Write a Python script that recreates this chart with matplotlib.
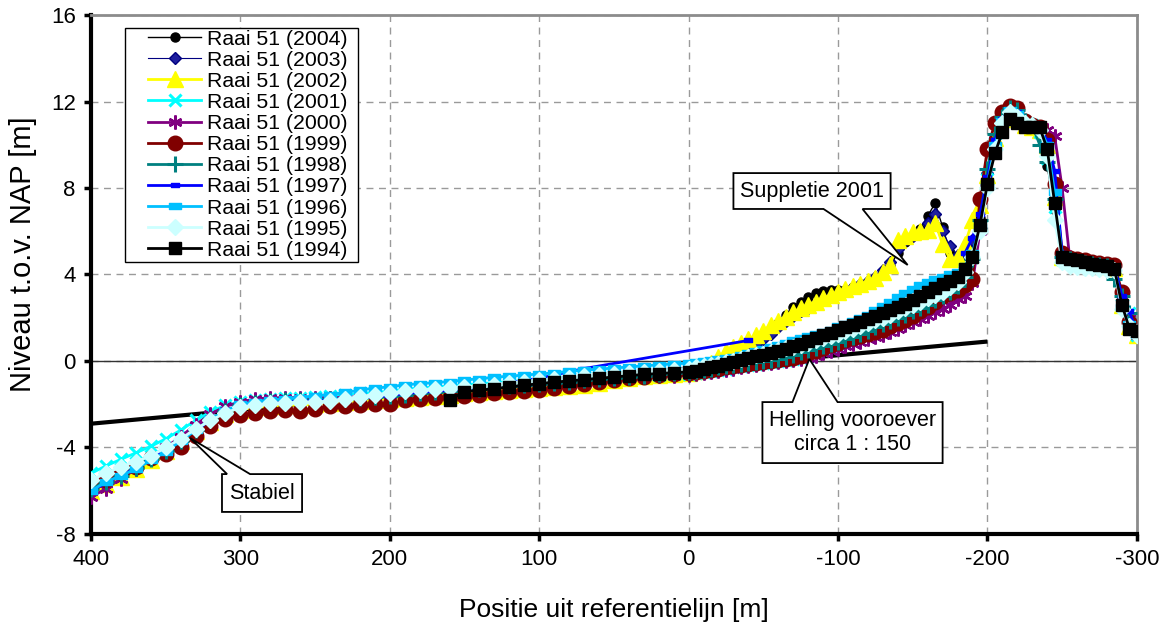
import numpy as np
import matplotlib
matplotlib.use("Agg")
import matplotlib.pyplot as plt
from matplotlib.path import Path
from matplotlib.patches import Polygon, Rectangle

plt.rcParams['font.family'] = ['Liberation Sans', 'DejaVu Sans']
plt.rcParams['axes.unicode_minus'] = False

# ---------------------------------------------------------------------------
# Profile stations [m from reference line]
x_sea = [400, 390, 380, 370, 360, 350, 340, 330, 320, 310, 300, 290, 280, 270, 260, 250,
         240, 230, 220, 210, 200, 190, 180, 170, 160, 150, 140, 130, 120, 110, 100, 90,
         80, 70, 60, 50, 40, 30, 20, 10]
x_beach = [0, -5, -10, -15, -20, -25, -30, -35, -40, -45, -50, -55, -60, -65, -70, -75,
           -80, -85, -90, -95, -100, -105, -110, -115, -120, -125, -130, -135, -140, -145,
           -150, -155, -160, -165, -170, -175, -180, -185, -190]
x_dune = [-195, -200, -205, -210, -215, -220, -225, -230, -235, -240, -245, -250, -255,
          -260, -265, -270, -275, -280, -285, -290, -295, -300]

# None = not measured (line continues), nan = gap in the line
nan = np.nan

# Bed level [m NAP] per survey year: sea part, beach part, dune part
z2004_sea = [-6.1, -5.8, -5.5, -5.1, -4.7, -4.2, -3.75, -3.3, -2.8, -2.4, -2.15, -2.05, -1.95, -1.9,
             -1.85, -1.85, -1.8, -1.75, -1.7, -1.65, -1.6, -1.55, -1.5, -1.45, -1.4, -1.35, -1.3,
             -1.25, -1.2, -1.15, -1.1, -1.05, -1.0, -0.95, -0.9, -0.85, -0.8, -0.7, -0.6, -0.5]
z2004_beach = [-0.4, -0.3, -0.2, -0.1, 0.0, 0.15, 0.3, 0.45, 0.65, 0.85, 1.1, 1.4, 1.75, 2.15, 2.5,
               2.75, 2.95, 3.15, 3.25, 3.3, 3.3, 3.3, 3.4, 3.5, 3.6, 3.8, 4.1, 4.4, 5.0, 5.5, 5.8,
               6.1, 6.7, 7.3, 6.2, 5.0, 4.7, 4.9, 5.5]
z2004_dune = [6.6, 8.4, 10.1, 11.1, 11.5, 11.3, 10.9, 10.8, 10.6, 9.0, 7.0, 4.8, 4.65, 4.6, 4.55,
              4.5, 4.45, 4.4, 4.3, 2.7, 1.8, 1.3]

z2003_sea = [-5.9, -5.6, -5.3, -4.95, -4.55, -4.1, -3.65, -3.2, -2.75, -2.35, -2.1, -2.0, -1.9,
             -1.85, -1.8, -1.8, -1.75, -1.7, -1.65, -1.6, -1.55, -1.5, -1.45, -1.4, -1.35, -1.3,
             -1.25, -1.2, -1.15, -1.1, -1.05, -1.0, -0.95, -0.9, -0.85, -0.8, -0.75, -0.7, -0.6, -0.52]
z2003_beach = [-0.45, -0.35, -0.25, -0.15, -0.05, 0.1, 0.25, 0.4, 0.6, 0.8, 1.0, 1.25, 1.55, 1.85,
               2.1, 2.3, 2.45, 2.65, 2.85, 3.0, 3.15, 3.3, 3.4, 3.55, 3.7, 3.9, 4.2, 4.6, 5.2, 5.6,
               5.8, 6.0, 6.4, 6.8, 6.0, 5.3, 4.9, 5.0, 5.6]
z2003_dune = [6.9, 8.7, 10.3, 11.2, 11.6, 11.4, 11.0, 10.9, 10.7, 10.0, 7.7, 4.9, 4.7, 4.6, 4.55,
              4.5, 4.45, 4.4, 4.35, 2.8, 1.9, 1.3]

z2002_sea = [-6.0, -5.7, -5.35, -5.0, -4.6, -4.15, -3.7, -3.25, -2.8, -2.45, -2.25, -2.15, -2.1,
             -2.05, -2.05, -2.0, -1.95, -1.9, -1.85, -1.8, -1.75, -1.7, -1.65, -1.6, -1.55, -1.5,
             -1.45, -1.4, -1.35, -1.3, -1.25, -1.2, -1.15, -1.1, -1.0, -0.9, -0.8, -0.7, -0.65, -0.6]
z2002_beach = [-0.55, -0.45, -0.3, -0.1, 0.2, 0.45, 0.65, 0.85, 1.0, 1.2, 1.4, 1.65, 1.85, 2.05,
               2.25, 2.45, 2.6, 2.75, 2.9, 3.05, 3.2, 3.35, 3.45, 3.55, 3.7, 3.85, 4.1, 4.45, 5.6,
               5.8, 5.95, 6.0, 6.05, 6.4, 5.4, 4.7, 4.8, 5.4, 6.5]
z2002_dune = [7.2, 8.6, 10.3, 11.2, 11.6, 11.4, 10.9, 10.8, 10.7, 10.0, 7.6, 4.8, 4.65, 4.6, 4.55,
              4.5, 4.45, 4.4, 4.3, 2.6, 1.6, 1.2]

z2001_sea = [-5.2, -4.85, -4.55, -4.25, -3.95, -3.6, -3.2, -2.75, -2.35, -2.05, -1.9, -1.8, -1.75,
             -1.7, -1.7, -1.65, -1.6, -1.55, -1.5, -1.45, -1.4, -1.3, -1.25, -1.2, -1.15, -1.1,
             -1.05, -1.0, -0.95, -0.9, -0.85, -0.8, -0.78, -0.75, -0.72, -0.7, -0.68, -0.66, -0.64, -0.62]
z2001_beach = [-0.6, -0.55, -0.5, -0.45, -0.4, -0.35, -0.3, -0.25, -0.2, -0.15, -0.1, -0.05, 0.0,
               0.05, 0.1, 0.15, 0.25, 0.4, 0.55, 0.7, 0.85, 1.0, 1.15, 1.3, 1.45, 1.6, 1.75, 1.9,
               2.05, 2.2, 2.35, 2.5, 2.65, 2.85, 3.05, 3.3, 3.6, 4.1, 4.8]
z2001_dune = [6.2, 8.4, 10.1, 11.1, 11.6, 11.4, 11.0, 10.9, 10.6, 9.4, 7.1, 4.7, 4.6, 4.55, 4.5,
              4.45, 4.4, 4.35, 4.3, 2.6, 2.2, 1.2]

z2000_sea = [-6.3, -5.9, -5.45, -5.0, -4.5, -4.0, -3.5, -2.95, -2.45, -2.1, -1.9, -1.75, -1.7, -1.7,
             -1.7, -1.7, -1.7, -1.68, -1.65, -1.6, -1.55, -1.5, -1.45, -1.42, -1.4, -1.35, -1.3,
             -1.25, -1.2, -1.15, -1.1, -1.05, -1.0, -0.95, -0.9, -0.85, -0.8, -0.75, -0.7, -0.68]
z2000_beach = [-0.65, -0.6, -0.55, -0.5, -0.45, -0.4, -0.35, -0.3, -0.25, -0.2, -0.15, -0.1, -0.05,
               0.0, 0.05, 0.1, 0.15, 0.25, 0.35, 0.45, 0.55, 0.7, 0.8, 0.9, 1.0, 1.1, 1.2, 1.35,
               1.5, 1.65, 1.8, 1.95, 2.1, 2.25, 2.4, 2.6, 2.85, 3.0, 3.6]
z2000_dune = [6.0, 8.3, 10.2, 11.2, 11.7, 11.5, 11.0, 10.9, 10.8, 10.7, 10.4, 8.0, 4.8, 4.7, 4.65,
              4.6, 4.55, 4.5, 4.4, 2.7, 2.0, 1.2]

z1999_sea = [-5.8, -5.5, -5.2, -4.9, -4.5, -4.3, -4.0, -3.45, -3.0, -2.7, -2.5, -2.4, -2.3, -2.25,
             -2.3, -2.2, -2.1, -2.1, -2.05, -2.0, -2.0, -1.8, -1.75, -1.7, -1.65, -1.6, -1.55, -1.5,
             -1.45, -1.4, -1.35, -1.25, -1.15, -1.05, -0.95, -0.88, -0.8, -0.73, -0.66, -0.6]
z1999_beach = [-0.55, -0.5, -0.45, -0.4, -0.35, -0.3, -0.25, -0.2, -0.15, -0.1, -0.05, 0.0, 0.05,
               0.1, 0.15, 0.25, 0.35, 0.45, 0.6, 0.75, 0.85, 0.95, 1.05, 1.15, 1.25, 1.35, 1.45,
               1.6, 1.75, 1.9, 2.1, 2.3, 2.5, 2.75, 3.0, 3.15, 3.3, 3.5, 3.8]
z1999_dune = [7.5, 9.8, 11.0, 11.5, 11.8, 11.7, 11.1, 10.9, 10.8, 10.2, 8.2, 5.0, 4.75, 4.7, 4.65,
              4.6, 4.55, 4.5, 4.45, 3.2, 1.8, 1.3]

z1998_sea = [-5.9, -5.6, -5.3, -4.95, -4.55, -4.15, -3.7, -3.2, -2.7, -2.3, -2.05, -1.95, -1.85,
             -1.8, -1.8, -1.8, -1.75, -1.75, -1.7, -1.65, -1.6, -1.55, -1.5, -1.45, -1.4, -1.35,
             -1.3, -1.22, -1.15, -1.1, -1.05, -1.0, -0.95, -0.9, -0.85, -0.8, -0.75, -0.68, -0.62, -0.56]
z1998_beach = [-0.5, -0.45, -0.4, -0.35, -0.3, -0.25, -0.2, -0.15, -0.1, -0.05, 0.0, 0.05, 0.1, 0.2,
               0.3, 0.4, 0.5, 0.6, 0.7, 0.8, 0.9, 1.0, 1.1, 1.25, 1.4, 1.55, 1.7, 1.85, 2.0, 2.15,
               2.3, 2.45, 2.6, 2.8, 3.0, 3.2, 3.45, 3.9, 4.7]
z1998_dune = [6.5, 8.9, 10.5, 11.3, 11.7, 11.6, 11.1, 10.9, 10.0, 9.2, 7.5, 4.8, 4.7, 4.6, 4.55,
              4.5, 4.45, 4.4, 3.8, 3.0, 2.2, 1.3]

z1997_sea = [-6.0, -5.65, -5.3, -4.95, -4.55, -4.1, -3.65, -3.2, -2.75, -2.35, -2.1, -2.0, -1.95,
             -1.9, -1.85, -1.85, -1.8, -1.75, -1.7, -1.65, -1.6, -1.5, -1.45, -1.4, -1.35, -1.3,
             -1.2, -1.1, -1.0, -0.9, -0.8, -0.65, -0.5, -0.35, None, None, None, None, None, None]
z1997_beach = [None, None, None, None, None, None, None, None, 0.95, nan, nan, nan, nan, nan, nan,
               nan, nan, nan, nan, nan, nan, nan, nan, nan, nan, nan, nan, nan, nan, nan, nan,
               nan, nan, nan, nan, nan, nan, 5.0, 5.7]
z1997_dune = [6.8, 8.5, 10.2, 11.2, 11.6, 11.5, 11.0, 10.9, 10.8, 10.2, 8.8, 5.0, 4.7, 4.65, 4.6,
              4.55, 4.5, 4.45, 4.4, 3.0, 2.3, 1.3]

z1996_sea = [-6.0, -5.6, -5.3, -5.0, -4.6, -4.2, -3.7, -3.2, -2.7, -2.3, -2.0, -1.9, -1.8, -1.75,
             -1.7, -1.6, -1.55, -1.45, -1.35, -1.25, -1.2, -1.1, -1.05, -1.0, -0.95, -0.88, -0.82,
             -0.75, -0.7, -0.65, -0.6, -0.55, -0.48, -0.42, -0.38, -0.32, -0.28, -0.22, -0.18, -0.13]
z1996_beach = [-0.1, -0.05, 0.0, 0.05, 0.1, 0.15, 0.2, 0.27, 0.35, 0.45, 0.55, 0.65, 0.75, 0.85,
               0.95, 1.05, 1.15, 1.25, 1.35, 1.45, 1.6, 1.72, 1.85, 2.0, 2.15, 2.35, 2.55, 2.75,
               2.95, 3.15, 3.35, 3.5, 3.65, 3.8, 3.9, 4.0, 4.1, 4.4, 5.0]
z1996_dune = [6.2, 8.2, 10.0, 11.1, 11.6, 11.4, 11.0, 10.9, 10.8, 10.0, 7.8, 4.8, 4.6, 4.55, 4.5,
              4.45, 4.4, 4.35, 4.3, 2.5, 1.7, 1.2]

z1995_sea = [-5.5, -5.2, -4.9, -4.65, -4.4, -4.0, -3.6, -3.15, -2.75, -2.4, -2.15, -2.05, -1.95,
             -1.95, -1.9, -1.9, -1.85, -1.75, -1.65, -1.55, -1.5, -1.4, -1.35, -1.3, -1.25, -1.2,
             -1.15, -1.1, -1.0, -0.95, -0.9, -0.85, -0.8, -0.7, -0.65, -0.6, -0.55, -0.5, -0.45, -0.4]
z1995_beach = [-0.35, -0.3, -0.25, -0.2, -0.12, -0.05, 0.02, 0.1, 0.18, 0.26, 0.34, 0.42, 0.5, 0.58,
               0.66, 0.75, 0.85, 0.95, 1.05, 1.15, 1.25, 1.37, 1.5, 1.62, 1.75, 1.88, 2.0, 2.15,
               2.3, 2.45, 2.6, 2.75, 2.9, 3.05, 3.2, 3.4, 3.65, 4.1, 4.8]
z1995_dune = [6.0, 8.0, 9.8, 11.0, 11.5, 11.3, 11.0, 10.9, 10.7, 9.5, 6.5, 4.6, 4.4, 4.35, 4.3,
              4.3, 4.25, 4.2, 4.2, 2.4, 1.6, 1.2]

z1994_sea = [None, None, None, None, None, None, None, None, None, None, None, None, None, None,
             None, None, None, None, None, None, None, None, None, None, -1.8, -1.42, -1.35, -1.28,
             -1.2, -1.12, -1.05, -0.98, -0.92, -0.86, -0.8, -0.74, -0.68, -0.62, -0.58, -0.54]
z1994_beach = [-0.5, -0.45, -0.38, -0.3, -0.22, -0.13, -0.05, 0.05, 0.13, 0.22, 0.3, 0.38, 0.47,
               0.57, 0.68, 0.8, 0.92, 1.05, 1.18, 1.3, 1.42, 1.55, 1.68, 1.8, 1.93, 2.07, 2.2,
               2.35, 2.5, 2.65, 2.82, 3.0, 3.18, 3.37, 3.55, 3.7, 3.9, 4.25, 4.8]
z1994_dune = [6.3, 8.2, 9.6, 10.6, 11.2, 11.0, 10.8, 10.8, 10.8, 9.8, 7.3, 4.8, 4.7, 4.65, 4.6,
              4.5, 4.45, 4.4, 4.25, 2.6, 1.5, 1.4]

years = [2004, 2003, 2002, 2001, 2000, 1999, 1998, 1997, 1996, 1995, 1994]
profiles = {
    2004: z2004_sea + z2004_beach + z2004_dune,
    2003: z2003_sea + z2003_beach + z2003_dune,
    2002: z2002_sea + z2002_beach + z2002_dune,
    2001: z2001_sea + z2001_beach + z2001_dune,
    2000: z2000_sea + z2000_beach + z2000_dune,
    1999: z1999_sea + z1999_beach + z1999_dune,
    1998: z1998_sea + z1998_beach + z1998_dune,
    1997: z1997_sea + z1997_beach + z1997_dune,
    1996: z1996_sea + z1996_beach + z1996_dune,
    1995: z1995_sea + z1995_beach + z1995_dune,
    1994: z1994_sea + z1994_beach + z1994_dune,
}
x_all = np.array(x_sea + x_beach + x_dune, dtype=float)

# Foreshore slope line (approx. 1:150)
helling_x = [400, -200]
helling_z = [-2.9, 0.9]

# ---------------------------------------------------------------------------
rect_small = Path([(-1, -0.45), (1, -0.45), (1, 0.45), (-1, 0.45), (-1, -0.45)], closed=True)
asterisk = (6, 2, 0)

styles = {
    2004: dict(color='black', lw=1.0, marker='o', ms=6.5, mfc='black', mec='black'),
    2003: dict(color='#000080', lw=0.8, marker='D', ms=6, mfc='#1F1F9F', mec='#000080'),
    2002: dict(color='#FFFF00', lw=2.0, marker='^', ms=11, mfc='#FFFF00', mec='#FFFF00'),
    2001: dict(color='#00FFFF', lw=2.0, marker='x', ms=9, mew=2.2, mec='#00FFFF'),
    2000: dict(color='#800080', lw=2.0, marker=asterisk, ms=10, mew=1.8, mec='#800080'),
    1999: dict(color='#800000', lw=2.0, marker='o', ms=10.5, mfc='#800000', mec='#800000'),
    1998: dict(color='#008080', lw=2.0, marker='+', ms=11, mew=2.2, mec='#008080'),
    1997: dict(color='#0000FF', lw=2.0, marker=rect_small, ms=6, mfc='#0000FF', mec='#0000FF'),
    1996: dict(color='#00C0FF', lw=2.0, marker=rect_small, ms=9, mfc='#00C0FF', mec='#00C0FF'),
    1995: dict(color='#CCFFFF', lw=2.0, marker='D', ms=8.5, mfc='#CCFFFF', mec='#CCFFFF'),
    1994: dict(color='black', lw=2.0, marker='s', ms=8.5, mfc='black', mec='black'),
}

fig = plt.figure(figsize=(11.66, 6.28), dpi=100)
ax = fig.add_axes([0.078, 0.1497, 0.897, 0.8264])

ax.plot(helling_x, helling_z, color='black', lw=3, zorder=2, solid_capstyle='butt')

for i, yr in enumerate(years):
    vals = profiles[yr]
    keep = np.array([v is not None for v in vals])
    z = np.array([v for v in vals if v is not None], dtype=float)
    ax.plot(x_all[keep], z, label=f'Raai 51 ({yr})', zorder=3 + i * 0.1, **styles[yr])

ax.set_xlim(400, -300)
ax.set_ylim(-8, 16)
ax.set_xticks([400, 300, 200, 100, 0, -100, -200, -300])
ax.set_yticks([-8, -4, 0, 4, 8, 12, 16])
ax.grid(True, ls=(0, (5, 4)), color='#9a9a9a', lw=1)
ax.axhline(0, color='#333333', lw=1, zorder=1.5)
ax.set_axisbelow(True)

for side in ('left', 'bottom'):
    ax.spines[side].set_linewidth(3)
    ax.spines[side].set_color('black')
for side in ('top', 'right'):
    ax.spines[side].set_linewidth(2)
    ax.spines[side].set_color('#8c8c8c')
ax.tick_params(direction='out', length=5, width=2.5, labelsize=16, pad=6)

ax.set_xlabel('Positie uit referentielijn [m]', fontsize=19, labelpad=20)
ax.set_ylabel('Niveau t.o.v. NAP [m]', fontsize=21)
ax.yaxis.set_label_coords(-0.052, 0.54)

# legend: frame drawn separately so the handles can sit inset like the original
ax.add_patch(Rectangle((0.0325, 0.524), 0.2228, 0.451, transform=ax.transAxes,
                       fc='white', ec='black', lw=1, zorder=9))
leg = ax.legend(loc='upper left', bbox_to_anchor=(0.0545, 0.972), fontsize=15.3,
                frameon=False, handlelength=2.5, handletextpad=0.3, labelspacing=0.1,
                borderpad=0, borderaxespad=0)
leg.set_zorder(10)


def callout(box, base, tip, text, side):
    x0, x1, zlo, zhi = box
    if side == 'bottom':
        verts = [(x0, zhi), (x1, zhi), (x1, zlo), (base[1], zlo), tip, (base[0], zlo), (x0, zlo)]
    else:
        verts = [(x0, zlo), (x1, zlo), (x1, zhi), (base[1], zhi), tip, (base[0], zhi), (x0, zhi)]
    ax.add_patch(Polygon(verts, closed=True, fc='white', ec='black', lw=1.3, zorder=8))
    ax.text((x0 + x1) / 2, (zlo + zhi) / 2, text, ha='center', va='center',
            fontsize=15.5, zorder=9, linespacing=1.15)


callout((-30, -135.2, 7.03, 8.69), (-90.3, -116.4), (-146.6, 4.44), 'Suppletie 2001', 'bottom')
callout((312.3, 258.7, -6.98, -5.23), (308.9, 293.5), (333.7, -3.56), 'Stabiel', 'top')
callout((-49.4, -170.0, -4.72, -1.90), (-69.5, -99.7), (-80.8, 0.09),
        'Helling vooroever\ncirca 1 : 150', 'top')

fig.savefig('out.png', dpi=100)
